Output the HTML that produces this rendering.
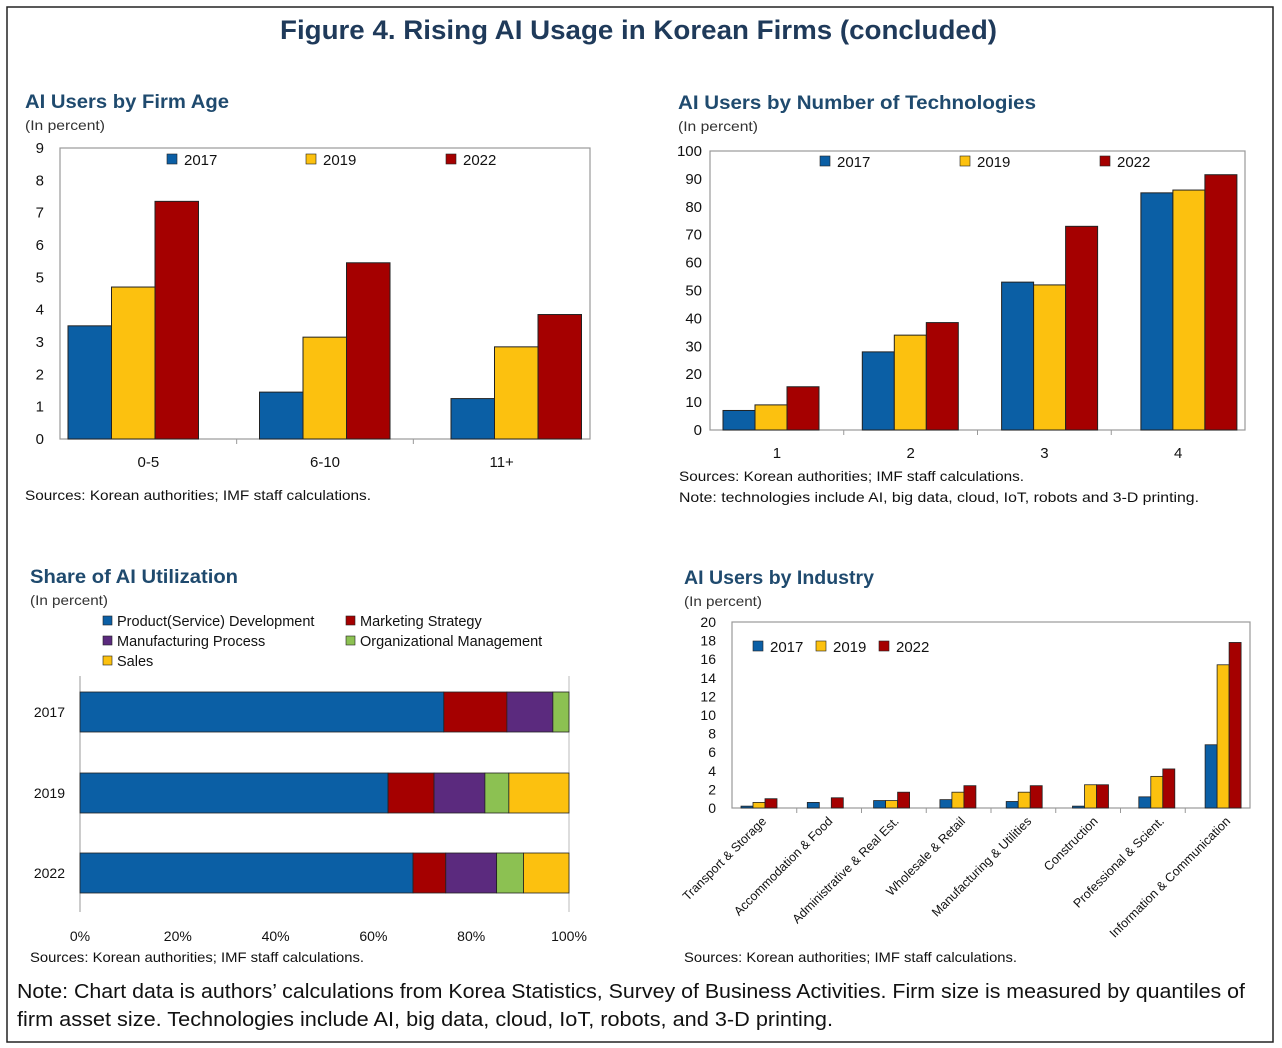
<!DOCTYPE html>
<html><head><meta charset="utf-8"><style>
body{margin:0;background:#fff;}
svg{display:block;font-family:"Liberation Sans",sans-serif;}
.t{font-weight:bold;font-size:19px;fill:#1f4a6e}
.s{font-size:14px;fill:#333}
.src{font-size:14px;fill:#111}
</style></head><body>
<svg id="svg" width="1282" height="1048" viewBox="0 0 1282 1048" xmlns="http://www.w3.org/2000/svg">
<rect x="7" y="7" width="1266" height="1035" fill="#fff" stroke="#222" stroke-width="1.5"/>
<text x="280" y="39" textLength="717" lengthAdjust="spacingAndGlyphs" font-size="27" font-weight="bold" fill="#1f3a5a">Figure 4. Rising AI Usage in Korean Firms (concluded)</text>

<text class="t" x="25" y="108" textLength="204" lengthAdjust="spacingAndGlyphs">AI Users by Firm Age</text>
<text class="s" x="25" y="130" textLength="80" lengthAdjust="spacingAndGlyphs">(In percent)</text>
<text class="src" x="25" y="500" textLength="346" lengthAdjust="spacingAndGlyphs">Sources: Korean authorities; IMF staff calculations.</text>

<text class="t" x="678" y="109" textLength="358" lengthAdjust="spacingAndGlyphs">AI Users by Number of Technologies</text>
<text class="s" x="678" y="131" textLength="80" lengthAdjust="spacingAndGlyphs">(In percent)</text>
<text class="src" x="679" y="481" textLength="345" lengthAdjust="spacingAndGlyphs">Sources: Korean authorities; IMF staff calculations.</text>
<text class="src" x="679" y="502" textLength="520" lengthAdjust="spacingAndGlyphs">Note: technologies include AI, big data, cloud, IoT, robots and 3-D printing.</text>

<text class="t" x="30" y="583" textLength="208" lengthAdjust="spacingAndGlyphs">Share of AI Utilization</text>
<text class="s" x="30" y="605" textLength="78" lengthAdjust="spacingAndGlyphs">(In percent)</text>
<text class="src" x="30" y="962" textLength="334" lengthAdjust="spacingAndGlyphs">Sources: Korean authorities; IMF staff calculations.</text>

<text class="t" x="684" y="584" textLength="190" lengthAdjust="spacingAndGlyphs">AI Users by Industry</text>
<text class="s" x="684" y="606" textLength="78" lengthAdjust="spacingAndGlyphs">(In percent)</text>
<text class="src" x="684" y="962" textLength="333" lengthAdjust="spacingAndGlyphs">Sources: Korean authorities; IMF staff calculations.</text>

<text x="17" y="998" font-size="20" textLength="1228" lengthAdjust="spacingAndGlyphs" fill="#111">Note: Chart data is authors’ calculations from Korea Statistics, Survey of Business Activities. Firm size is measured by quantiles of</text>
<text x="17" y="1026" font-size="20" textLength="816" lengthAdjust="spacingAndGlyphs" fill="#111">firm asset size. Technologies include AI, big data, cloud, IoT, robots, and 3-D printing.</text>
</svg>
<script>
const years=["2017","2019","2022"];
const ageCats=["0-5","6-10","11+"];
const age2017=[3.5,1.45,1.25];
const age2019=[4.7,3.15,2.85];
const age2022=[7.35,5.45,3.85];
const ageTicks=[0,1,2,3,4,5,6,7,8,9];
const techCats=["1","2","3","4"];
const tech2017=[7,28,53,85];
const tech2019=[9,34,52,86];
const tech2022=[15.5,38.5,73,91.5];
const techTicks=[0,10,20,30,40,50,60,70,80,90,100];
const indCats=["Transport & Storage","Accommodation & Food","Administrative & Real Est.","Wholesale & Retail","Manufacturing & Utilities","Construction","Professional & Scient.","Information & Communication"];
const ind2017=[0.2,0.6,0.8,0.9,0.7,0.2,1.2,6.8];
const ind2019=[0.6,0,0.8,1.7,1.7,2.5,3.4,15.4];
const ind2022=[1.0,1.1,1.7,2.4,2.4,2.5,4.2,17.8];
const indTicks=[0,2,4,6,8,10,12,14,16,18,20];
const shareYears=["2017","2019","2022"];
const shareSeries=["Product(Service) Development","Marketing Strategy","Manufacturing Process","Organizational Management","Sales"];
const shareProduct=[74.4,63,68.1];
const shareMarketing=[12.9,9.4,6.7];
const shareManufacturing=[9.4,10.4,10.4];
const shareOrg=[3.3,4.9,5.5];
const shareSales=[0,12.3,9.3];
const shareTicks=["0%","20%","40%","60%","80%","100%"];

const C={b:"#0b5fa5",y:"#fcc10f",r:"#a50000",p:"#5b2a7e",g:"#8cc152"};
const svg=document.getElementById('svg');
const NS="http://www.w3.org/2000/svg";
function mk(tag,a,parent){const e=document.createElementNS(NS,tag);for(const k in a)e.setAttribute(k,a[k]);(parent||svg).appendChild(e);return e;}
function txt(x,y,s,a){const e=mk('text',Object.assign({x:x,y:y},a||{}));e.textContent=s;return e;}

function vchart(o){
  const g=mk('g',{});
  
  
  const ys=v=>o.y0-(v-o.min)/(o.max-o.min)*(o.y0-o.y1);
  const fr=mk('rect',{x:o.x0,y:o.y1,width:o.x1-o.x0,height:o.y0-o.y1,fill:"none",stroke:"#999","stroke-width":1.2},g);
  
  
  o.ticks.forEach(t=>{const e=txt(o.x0-o.tickGap,ys(t)+5,String(t),{"text-anchor":"end","font-size":o.tfs||15,fill:"#111"});
    
    
    g.appendChild(e);});
  const n=o.cats.length,gwT=(o.x1-o.x0)/n,gw=o.gw||gwT;
  const ser=[o.s1,o.s2,o.s3],cols=[C.b,C.y,C.r];
  o.cats.forEach((c,i)=>{
    const gs=o.x0+gw*i;
    const ts=o.x0+gwT*i;
    const cx=ts+gwT/2;
    ser.forEach((s,j)=>{
      const x=gs+o.off+j*o.bw,y=ys(s[i]);
      const r=mk('rect',{x:x,y:y,width:o.bw,height:o.y0-y,fill:cols[j],stroke:"#222","stroke-width":o.sw||1},g);
      
      
    });
    if(i>0){const tk=mk('line',{x1:ts,x2:ts,y1:o.y0,y2:o.y0+5,stroke:"#999"},g);
      
      }
    if(o.rot){const lx=gs+o.off+1.5*o.bw+8, ly=o.y0+14;
      const e=txt(lx,ly,c,{"text-anchor":"end","font-size":12.5,fill:"#111",transform:"rotate(-45 "+lx+" "+ly+")"});
      
      
      g.appendChild(e);}
    else{const e=txt(cx,o.y0+28,c,{"text-anchor":"middle","font-size":15,fill:"#111"});
      
      
      g.appendChild(e);}
  });
  o.leg.forEach((lx,j)=>{
    const r=mk('rect',{x:lx,y:o.ly-11,width:10,height:10,fill:cols[j],stroke:"#222","stroke-width":0.6},g);
    
    
    const t=txt(lx+17,o.ly,years[j],{"font-size":15,fill:"#111"});
    
    
    g.appendChild(t);
  });
}
vchart({name:'firm-age-chart',x0:60,x1:590,gw:191.5,y0:439,y1:148,min:0,max:9,ticks:ageTicks,tickGap:16,cats:ageCats,s1:age2017,s2:age2019,s3:age2022,bw:43.5,off:8,leg:[167,306,446],ly:165});
vchart({name:'technologies-chart',x0:710,x1:1245,gw:139.3,y0:430,y1:151,min:0,max:100,ticks:techTicks,tickGap:8,cats:techCats,s1:tech2017,s2:tech2019,s3:tech2022,bw:32,off:13,leg:[820,960,1100],ly:167});
vchart({name:'industry-chart',x0:732,x1:1250,gw:66.3,y0:808,y1:622,min:0,max:20,ticks:indTicks,tickGap:16,tfs:14,cats:indCats,s1:ind2017,s2:ind2019,s3:ind2022,bw:12,off:9,sw:0.8,leg:[753,816,879],ly:652,rot:true});

// stacked chart
(function(){
  const g=mk('g',{});
  
  
  const x0=80,x1=569,xs=v=>x0+v/100*(x1-x0);
  const ax=mk('line',{x1:x0,x2:x0,y1:676,y2:912,stroke:"#999"},g);
  
  
  const ax2=mk('line',{x1:x1,x2:x1,y1:676,y2:912,stroke:"#bbb"},g);
  
  
  const series=[shareProduct,shareMarketing,shareManufacturing,shareOrg,shareSales];
  const cols=[C.b,C.r,C.p,C.g,C.y];
  const yc=[712,793,873];
  shareYears.forEach((yr,i)=>{
    let acc=0;
    series.forEach((s,j)=>{
      if(s[i]<=0)return;
      const r=mk('rect',{x:xs(acc),y:yc[i]-20,width:xs(acc+s[i])-xs(acc),height:40,fill:cols[j],stroke:"#222","stroke-width":0.8},g);
      
      
      acc+=s[i];
    });
    const t=txt(65,yc[i]+5,yr,{"text-anchor":"end","font-size":14,fill:"#111"});
    
    
    g.appendChild(t);
  });
  shareTicks.forEach((s,i)=>{
    const t=txt(xs(i*20),941,s,{"text-anchor":"middle","font-size":14,fill:"#111"});
    
    
    g.appendChild(t);
  });
  const lp=[[103,626],[346,626],[103,646],[346,646],[103,666]];
  shareSeries.forEach((s,j)=>{
    const r=mk('rect',{x:lp[j][0],y:lp[j][1]-10,width:9,height:9,fill:cols[j],stroke:"#222","stroke-width":0.6},g);
    
    
    const t=txt(lp[j][0]+14,lp[j][1],s,{"font-size":14.5,fill:"#111"});
    
    
    g.appendChild(t);
  });
})();
</script>
</body></html>
